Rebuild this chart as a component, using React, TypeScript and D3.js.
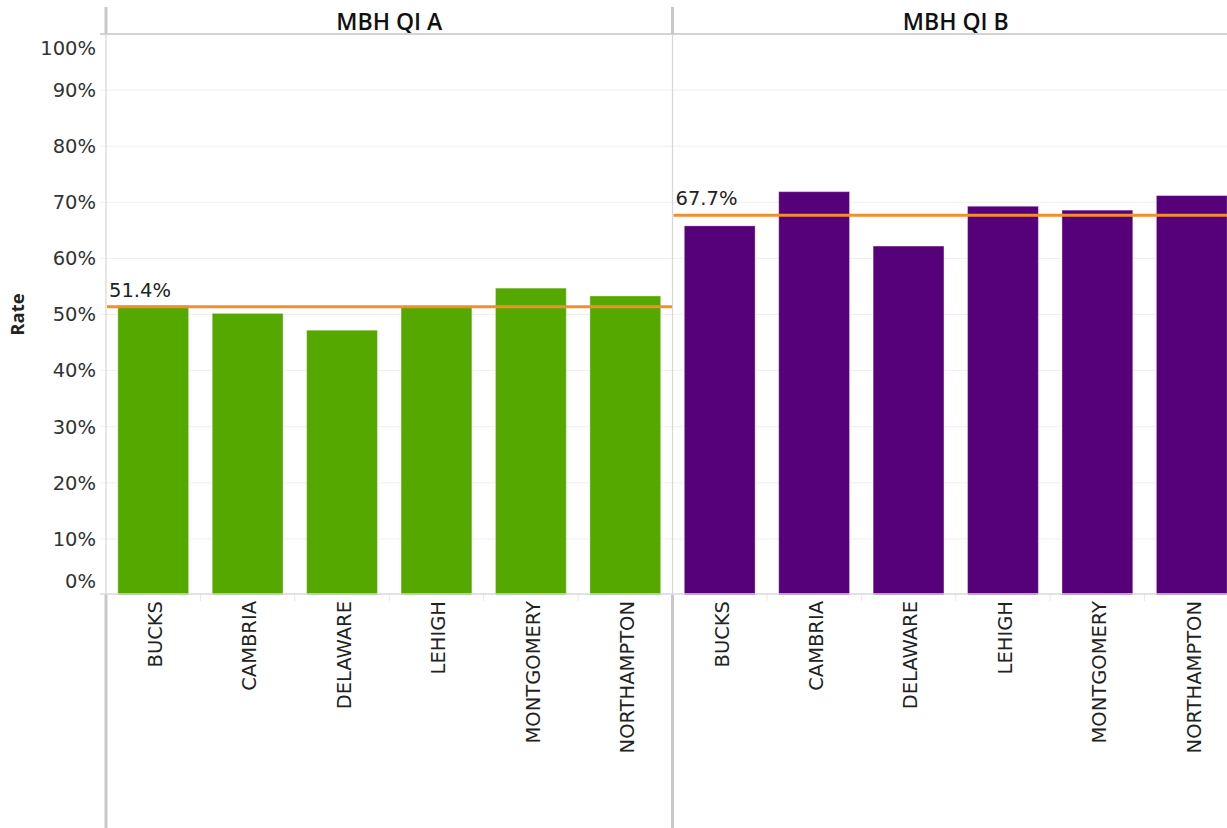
import React from "react";
import * as d3 from "d3";

// Counties shown in each panel
const counties = ["BUCKS", "CAMBRIA", "DELAWARE", "LEHIGH", "MONTGOMERY", "NORTHAMPTON"];

// Measure names (panel headers)
const measures = ["MBH QI A", "MBH QI B"];

// Rates per county for each measure
const ratesA = [0.516, 0.502, 0.472, 0.515, 0.547, 0.533];
const ratesB = [0.658, 0.719, 0.622, 0.693, 0.686, 0.712];

// Average reference line per measure
const averages = [0.514, 0.677];

// Y axis ticks
const yTicks = [0, 0.1, 0.2, 0.3, 0.4, 0.5, 0.6, 0.7, 0.8, 0.9, 1.0];

const barColors = ["#55a800", "#56007a"];
const refColor = "#f28e2b";
const FONT = "'DejaVu Sans', sans-serif";
const HEAD_FONT = "'Open Sans', sans-serif";

const W = 1227;
const H = 828;
const headerTop = 7;
const headerBottom = 34;
const plotTop = 34;
const plotBottom = 595;
const panelLeft = 106;
const panelWidth = 566.5;

export default function App() {
  const y = d3.scaleLinear().domain([0, 1]).range([plotBottom, plotTop]);
  const series = [ratesA, ratesB];
  const fmt = d3.format(".0%");
  const fmtRef = d3.format(".1%");

  return (
    <div style={{ position: "absolute", left: 0, top: 0 }}>
      <svg width={W} height={H} style={{ display: "block", background: "#fff" }} fontFamily={FONT}>
        {/* gridlines */}
        {yTicks.slice(1, -1).map((t) => (
          <line key={t} x1={100} x2={W} y1={y(t)} y2={y(t)} stroke="#efefef" strokeWidth={1} />
        ))}

        {/* y tick labels, end labels nudged inside the axis range */}
        {yTicks.map((t, i) => {
          let ty = y(t);
          if (i === 0) ty -= 14;
          if (i === yTicks.length - 1) ty += 14;
          return (
            <text key={t} x={96} y={ty} dy="0.35em" textAnchor="end" fontSize={19.5} fill="#333">
              {fmt(t)}
            </text>
          );
        })}

        <text
          transform={`translate(24,${(plotTop + plotBottom) / 2}) rotate(-90)`}
          textAnchor="middle"
          fontFamily={HEAD_FONT}
          fontSize={18.5}
          fontWeight={700}
          fill="#222"
        >
          Rate
        </text>

        {measures.map((m, pi) => {
          const x0 = panelLeft + pi * panelWidth;
          const x = d3
            .scaleBand<string>()
            .domain(counties)
            .range([x0, x0 + panelWidth])
            .paddingInner(0.25)
            .paddingOuter(0.125);
          const vals = series[pi];
          const avg = averages[pi];
          return (
            <g key={m}>
              <text
                x={x0 + panelWidth / 2}
                y={22}
                dy="0.35em"
                textAnchor="middle"
                fontFamily={HEAD_FONT}
                fontSize={23}
                fontWeight={600}
                fill="#111"
              >
                {m}
              </text>
              {counties.map((c, i) => (
                <rect
                  key={c}
                  x={x(c)}
                  y={y(vals[i])}
                  width={x.bandwidth()}
                  height={y(0) - y(vals[i])}
                  fill={barColors[pi]}
                  stroke="#ffffff"
                  strokeOpacity={0.35}
                  strokeWidth={1}
                />
              ))}
              {counties.map((c, i) => (
                <line
                  key={"t" + c}
                  x1={x0 + x.step() * (i + 1)}
                  x2={x0 + x.step() * (i + 1)}
                  y1={plotBottom}
                  y2={plotBottom + 6}
                  stroke="#e6e6e6"
                />
              ))}
              {counties.map((c) => (
                <text
                  key={"l" + c}
                  transform={`translate(${x(c)! + x.bandwidth() / 2 + 2},${plotBottom + 6}) rotate(-90)`}
                  textAnchor="end"
                  dy="0.35em"
                  fontSize={19.5}
                  fill="#222"
                >
                  {c}
                </text>
              ))}
              <line
                x1={x0 + 1}
                x2={x0 + panelWidth}
                y1={y(avg)}
                y2={y(avg)}
                stroke={refColor}
                strokeWidth={3}
              />
              <text x={x0 + 3} y={y(avg) - 10} fontSize={19.5} fill="#222">
                {fmtRef(avg)}
              </text>
            </g>
          );
        })}

        {/* header divider and x axis line */}
        <line x1={100} x2={W} y1={headerBottom} y2={headerBottom} stroke="#d3d3d3" strokeWidth={2} />
        <line x1={100} x2={W} y1={plotBottom - 1} y2={plotBottom - 1} stroke="#d9d9d9" strokeWidth={1.5} />

        {/* panel borders: thick in header and label rows, thin in the plot area */}
        {[panelLeft, panelLeft + panelWidth].map((px) => (
          <g key={px}>
            <line x1={px} x2={px} y1={headerTop} y2={headerBottom} stroke="#c8c8c8" strokeWidth={3} />
            <line x1={px} x2={px} y1={headerBottom} y2={plotBottom} stroke="#d6d6d6" strokeWidth={1.2} />
            <line x1={px} x2={px} y1={plotBottom} y2={H} stroke="#c8c8c8" strokeWidth={3} />
          </g>
        ))}
      </svg>
    </div>
  );
}
